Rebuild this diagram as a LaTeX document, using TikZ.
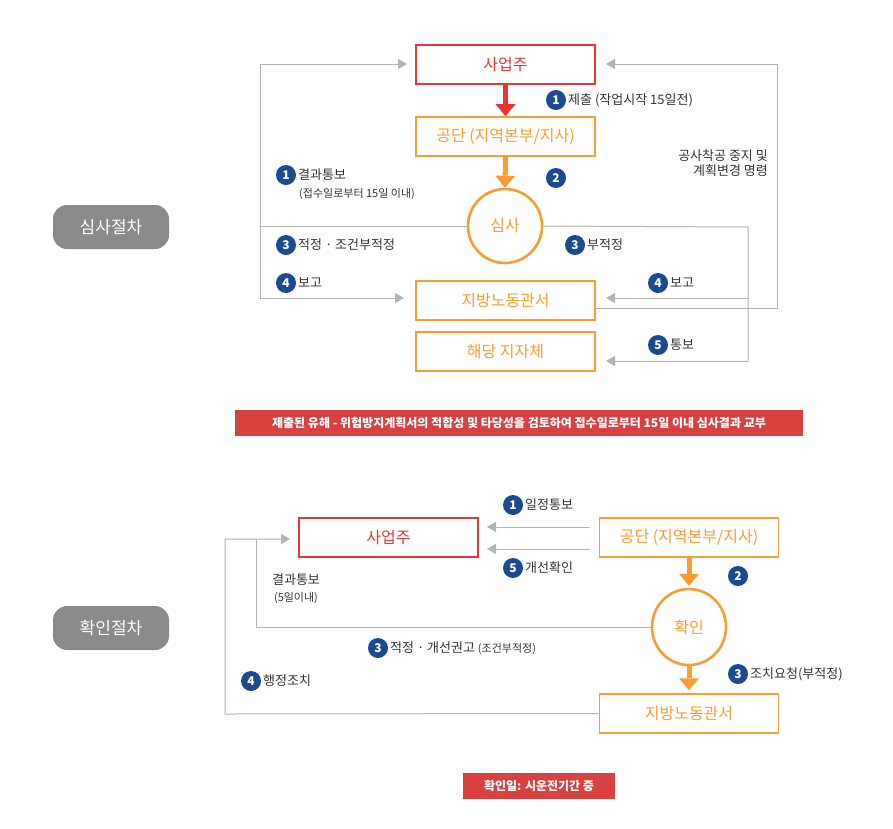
\documentclass[tikz,border=0pt]{standalone}
\usepackage{fontspec}
\setmainfont{Noto Sans CJK KR}
\usetikzlibrary{arrows.meta,shapes.geometric}
\definecolor{kred}{HTML}{EE3333}
\definecolor{korange}{HTML}{F99D32}
\definecolor{kgray}{HTML}{B4B4B4}
\definecolor{kblue}{HTML}{1B4A8E}
\definecolor{kpill}{HTML}{8A8A8A}
\definecolor{kband}{HTML}{D94141}
\tikzset{
  redbox/.style={draw=kred,line width=1.6pt,minimum width=179pt,minimum height=39pt,text=kred,font=\fontsize{16}{18}\selectfont},
  orangebox/.style={draw=korange,line width=1.6pt,minimum width=179pt,minimum height=39pt,text=korange,font=\fontsize{16}{18}\selectfont},
  checkring/.style={ellipse,draw=korange,line width=2.6pt,text=korange,font=\fontsize{16}{18}\selectfont},
  badge/.style={circle,fill=kblue,text=white,inner sep=0pt,minimum size=20pt,font=\bfseries\fontsize{12}{12}\selectfont},
  lbl/.style={anchor=west,inner sep=0pt,font=\fontsize{13}{15}\selectfont,text=black!80},
  small/.style={inner sep=0pt,font=\fontsize{11}{13}\selectfont,text=black!80},
  grayline/.style={draw=kgray,line width=1pt},
  grayarrow/.style={grayline,-{Triangle[width=10pt,length=9pt]}},
  fatarrow/.style={line width=5pt,-{Triangle[width=20pt,length=12pt,line width=0pt]}},
  pill/.style={rounded corners=14pt,fill=kpill,text=white,minimum width=116pt,minimum height=44pt,font=\fontsize{17}{19}\selectfont},
  band/.style={fill=kband,text=white,minimum height=26pt,font=\bfseries\fontsize{12}{14}\selectfont}
}
\begin{document}
\begin{tikzpicture}[x=1pt,y=-1pt]
\useasboundingbox (0,0) rectangle (893,828);
% review procedure
\node[pill] (review) at (111,227) {심사절차};
\node[redbox] (owner) at (505.5,64.5) {사업주};
\node[orangebox] (agency) at (505.5,136.5) {공단 (지역본부/지사)};
\node[checkring,minimum width=74pt,minimum height=74pt] (exam) at (505,226) {심사};
\node[orangebox] (office) at (505.5,300.5) {지방노동관서};
\node[orangebox] (local) at (505.5,351.5) {해당 지자체};
\draw[fatarrow,kred] (owner.south) -- (agency.north);
\draw[fatarrow,korange] (agency.south) -- (exam.north);
\coordinate (lt) at (260,64);
\coordinate (lb) at (260,298);
\coordinate (rt) at (748,227);
\coordinate (rm) at (748,298);
\coordinate (rb) at (748,361);
\coordinate (ft) at (777,64);
\coordinate (fb) at (777,308);
\draw[grayline] (exam.west) -- (260,226);
\draw[grayarrow] (lb) -- (lt) -- (407,64);
\draw[grayarrow] (lb) -- (404,298);
\draw[grayline] (exam.east) -- (rt) -- (rb);
\draw[grayarrow] (rm) -- (606,298);
\draw[grayarrow] (rb) -- (606,361);
\draw[grayarrow] (office.east |- fb) -- (fb) -- (ft) -- (606,64);
\node[badge] (b1) at (556,100) {1};
\node[lbl,right=0pt] at (568,100) {제출 (작업시작 15일전)};
\node[badge] at (556,178) {2};
\node[badge] at (286,175) {1};
\node[lbl] at (298,175) {결과통보};
\node[small,anchor=west] at (299,194) {(접수일로부터 15일 이내)};
\node[badge] at (286,245) {3};
\node[lbl] at (298,245) {적정 · 조건부적정};
\node[badge] at (575,245) {3};
\node[lbl] at (587,245) {부적정};
\node[badge] at (286,283) {4};
\node[lbl] at (298,283) {보고};
\node[badge] at (658,283) {4};
\node[lbl] at (670,283) {보고};
\node[badge] at (658,345) {5};
\node[lbl] at (670,345) {통보};
\node[lbl,anchor=east,align=right] at (768,163) {공사착공 중지 및\\계획변경 명령};
\node[band,minimum width=568pt] (note1) at (519,423) {제출된 유해 - 위험방지계획서의 적합성 및 타당성을 검토하여 접수일로부터 15일 이내 심사결과 교부};
% confirmation procedure
\node[pill] (confirm) at (111,628) {확인절차};
\node[redbox] (owner2) at (388.5,537.5) {사업주};
\node[orangebox] (agency2) at (689,537.5) {공단 (지역본부/지사)};
\node[checkring,minimum width=74pt,minimum height=76pt] (check) at (689,627) {확인};
\node[orangebox] (office2) at (689,713.5) {지방노동관서};
\draw[grayarrow] (590,527) -- (487,527);
\draw[grayarrow] (590,549) -- (487,549);
\draw[fatarrow,korange] (agency2.south) -- ++(0,28);
\draw[fatarrow,korange] (check.south) -- ++(0,24);
\coordinate (ct) at (256,539);
\coordinate (cb) at (225,714);
\draw[grayline] (check.west) -- (256,627) -- (ct);
\draw[grayarrow] (office2.west) -- (cb) -- (225,539) -- (290,539);
\node[badge] at (513,505) {1};
\node[lbl] at (525,505) {일정통보};
\node[badge] at (513,568) {5};
\node[lbl] at (525,568) {개선확인};
\node[badge] at (738,576) {2};
\node[badge] at (738,674) {3};
\node[lbl] at (750,674) {조치요청(부적정)};
\node[lbl,anchor=center] at (296,580) {결과통보};
\node[small] at (296,598) {(5일이내)};
\node[badge] at (378,648) {3};
\node[lbl] at (390,648) {적정 · 개선권고 {\fontsize{11}{13}\selectfont(조건부적정)}};
\node[badge] at (251,681) {4};
\node[lbl] at (263,681) {행정조치};
\node[band,minimum width=152pt] (note2) at (539,786) {확인일: 시운전기간 중};
\end{tikzpicture}
\end{document}
